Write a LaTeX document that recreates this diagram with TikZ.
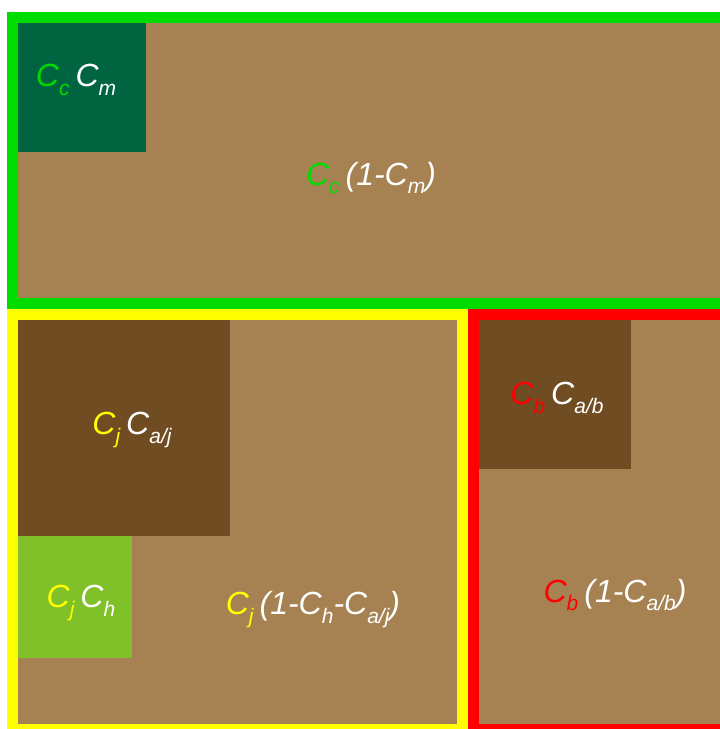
\documentclass[tikz,border=0pt]{standalone}
\usepackage{fontspec}
\setmainfont{Liberation Sans}
\usepackage{tikz}
\usetikzlibrary{positioning}
\definecolor{SoilBrown}{HTML}{A68252}
\definecolor{DarkSoil}{HTML}{704C22}
\definecolor{MossGreen}{HTML}{006440}
\definecolor{LeafGreen}{HTML}{80C028}
\definecolor{CanopyGreen}{HTML}{00DC00}
\definecolor{JuvYellow}{HTML}{FFFF00}
\definecolor{BareRed}{HTML}{FF0000}
\newcommand{\lowidx}[1]{\raisebox{-0.28em}{\fontsize{21}{21}\selectfont #1}}
\newcommand{\gap}{\hspace{6pt}}

\begin{document}
\begin{tikzpicture}[
  x=1pt, y=-1pt,
  panel/.style={fill=SoilBrown, line width=11pt},
  lbl/.style={font=\fontsize{32}{34}\selectfont\itshape, text=white, inner sep=0pt}
]
\useasboundingbox (0,0) rectangle (720,729);
\begin{scope}
\clip (0,0) rectangle (720,729);
\draw[panel, draw=CanopyGreen] (12.5,17.5) rectangle (725.5,303.5);
\draw[panel, draw=JuvYellow] (12.5,314.5) rectangle (462.5,729.5);
\draw[panel, draw=BareRed] (473.5,314.5) rectangle (725.5,729.5);
\fill[MossGreen] (18,23) rectangle (146,152);
\fill[DarkSoil] (18,320) rectangle (230,536);
\fill[LeafGreen] (18,536) rectangle (132,658);
\fill[DarkSoil] (479,320) rectangle (631,469);
\end{scope}
\node[lbl] (ccm) at (76,80) {\textcolor{CanopyGreen}{C\lowidx{c}}\gap C\lowidx{m}};
\node[lbl] (cc) at (371,178) {\textcolor{CanopyGreen}{C\lowidx{c}}\gap(1-C\lowidx{m})};
\node[lbl] (cja) at (132,430) {\textcolor{JuvYellow}{C\lowidx{j}}\gap C\lowidx{a/j}};
\node[lbl] (cjh) at (81,603) {\textcolor{JuvYellow}{C\lowidx{j}}\gap C\lowidx{h}};
\node[lbl] (cj) at (313,610) {\textcolor{JuvYellow}{C\lowidx{j}}\gap(1-C\lowidx{h}-C\lowidx{a/j})};
\node[lbl] (cba) at (557,398) {\textcolor{BareRed}{C\lowidx{b}}\gap C\lowidx{a/b}};
\node[lbl] (cb) at (615,595) {\textcolor{BareRed}{C\lowidx{b}}\gap(1-C\lowidx{a/b})};
\end{tikzpicture}
\end{document}
